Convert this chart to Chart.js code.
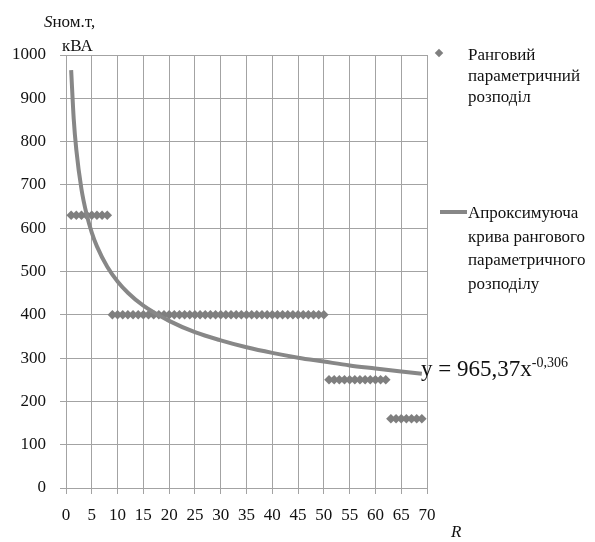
<!DOCTYPE html>
<html>
<head>
<meta charset="utf-8">
<script src="https://cdn.jsdelivr.net/npm/chart.js@4.4.1/dist/chart.umd.min.js"></script>
<style>
  body { margin: 0; background: #fff; }
  #wrap { position: relative; width: 595px; height: 542px; font-family: "Liberation Serif", "Times New Roman", serif; color: #111; }
  #wrap div.t { position: absolute; white-space: nowrap; }
  .leg { font-size: 17px; }
</style>
</head>
<body>
<div id="wrap">
  <canvas id="myChart" width="595" height="542"></canvas>
  <div class="t" style="left:44px; top:12px; font-size:17px;"><i>S</i>ном.т,</div>
  <div class="t" style="left:62px; top:36px; font-size:17px;">кВА</div>
  <div class="t" style="left:435px; top:49px; width:8px; height:8px; background:#7f7f7f; transform:rotate(45deg) scale(0.75);"></div>
  <div class="t leg" style="left:468px; top:44px; line-height:21px;">Ранговий<br>параметричний<br>розподіл</div>
  <div class="t" style="left:440px; top:210px; width:27px; height:4px; background:#878787;"></div>
  <div class="t leg" style="left:468px; top:201px; line-height:23.5px;">Апроксимуюча<br>крива рангового<br>параметричного<br>розподілу</div>
  <div class="t" style="left:421px; top:355px; font-size:23px;">y = 965,37x<sup style="font-size:14px;">-0,306</sup></div>
  <div class="t" style="left:451px; top:522px; font-size:17px;"><i>R</i></div>
</div>
<script>
// rank number R and rated power of each transformer
var rankValues = [
    630, 630, 630, 630, 630, 630, 630, 630,
    400, 400, 400, 400, 400, 400, 400, 400, 400, 400,
    400, 400, 400, 400, 400, 400, 400, 400, 400, 400,
    400, 400, 400, 400, 400, 400, 400, 400, 400, 400,
    400, 400, 400, 400, 400, 400, 400, 400, 400, 400,
    400, 400,
    250, 250, 250, 250, 250, 250, 250, 250, 250, 250, 250, 250,
    160, 160, 160, 160, 160, 160, 160
];
var rankX = [
    1, 2, 3, 4, 5, 6, 7, 8, 9, 10, 11, 12, 13, 14, 15, 16, 17, 18, 19, 20,
    21, 22, 23, 24, 25, 26, 27, 28, 29, 30, 31, 32, 33, 34, 35, 36, 37, 38, 39, 40,
    41, 42, 43, 44, 45, 46, 47, 48, 49, 50, 51, 52, 53, 54, 55, 56, 57, 58, 59, 60,
    61, 62, 63, 64, 65, 66, 67, 68, 69
];

// approximating curve
var curveX = [1, 1.5, 2, 3, 4, 5, 6, 8, 10, 12, 15, 20, 25, 30, 35, 40, 45, 50, 55, 60, 65, 69];
var curveY = [965, 852, 781, 690, 632, 590, 558, 511, 477, 451, 421, 386, 360, 341, 325, 312, 301, 292, 283, 276, 269, 264];

var xTicks = [0, 70, 5];
var yTicks = [0, 1000, 100];

var rankPoints = rankX.map(function (x, i) { return { x: x, y: rankValues[i] }; });
var curvePoints = curveX.map(function (x, i) { return { x: x, y: curveY[i] }; });

var gridColor = "#a3a3a3";
var tickFont = { family: "Liberation Serif", size: 17 };

new Chart("myChart", {
    type: "scatter",
    data: {
        datasets: [{
            label: "Апроксимуюча крива рангового параметричного розподілу",
            data: curvePoints,
            showLine: true,
            borderColor: "#878787",
            borderWidth: 4,
            pointRadius: 0,
            cubicInterpolationMode: "monotone",
            order: 0
        }, {
            label: "Ранговий параметричний розподіл",
            data: rankPoints,
            pointStyle: "rectRot",
            pointRadius: 4.8,
            backgroundColor: "#7f7f7f",
            borderColor: "#7f7f7f",
            borderWidth: 0,
            order: 1
        }]
    },
    options: {
        responsive: false,
        animation: false,
        devicePixelRatio: 1,
        layout: { padding: { top: 55, right: 168, left: 0, bottom: 0 } },
        plugins: {
            legend: { display: false },
            tooltip: { enabled: false }
        },
        scales: {
            x: {
                type: "linear",
                min: xTicks[0], max: xTicks[1],
                ticks: { stepSize: xTicks[2], color: "#111", font: tickFont, padding: 11, maxRotation: 0, autoSkip: false,
                         callback: function (v) { return String(v); } },
                grid: { color: gridColor, tickLength: 6 },
                border: { color: gridColor },
                afterFit: function (s) { s.height = 54; }
            },
            y: {
                min: yTicks[0], max: yTicks[1],
                ticks: { stepSize: yTicks[2], color: "#111", font: tickFont, padding: 14,
                         callback: function (v) { return String(v); } },
                grid: { color: gridColor, tickLength: 6 },
                border: { color: gridColor },
                afterFit: function (s) { s.width = 66; }
            }
        }
    }
});
</script>
</body>
</html>
